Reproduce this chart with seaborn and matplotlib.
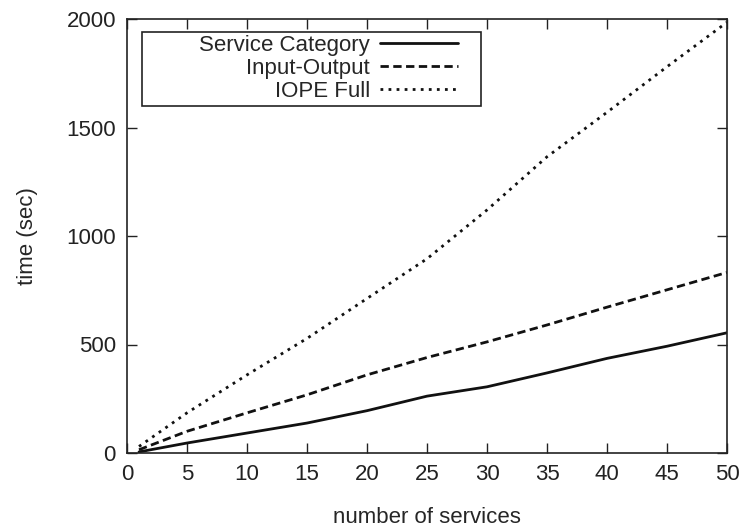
import pandas as pd
import matplotlib
matplotlib.use('Agg')
import matplotlib.pyplot as plt
from matplotlib.patches import Rectangle
import seaborn as sns

# values
services = [1, 5, 10, 15, 20, 25, 30, 35, 40, 45, 50]
service_category = [5, 46, 92, 138, 195, 262, 305, 369, 436, 492, 554]
input_output = [15, 100, 185, 268, 360, 440, 512, 590, 672, 752, 832]
iope_full = [30, 185, 360, 528, 712, 895, 1120, 1365, 1570, 1780, 1985]

labels = ['Service Category', 'Input-Output', 'IOPE Full']
styles = ['-', (0, (3, 1.6)), (0, (1, 1.9))]

sns.set_style('ticks')
plt.rcParams['font.family'] = ['Liberation Sans', 'DejaVu Sans']

fig = plt.figure(figsize=(7.41, 5.30), dpi=100)
ax = fig.add_axes([127 / 741, 77 / 530, 600 / 741, 434 / 530])

for vals, lab, ls in zip([service_category, input_output, iope_full], labels, styles):
    df = pd.DataFrame({'services': services, 'time': vals})
    sns.lineplot(data=df, x='services', y='time', ax=ax, color='#111111',
                 linestyle=ls, linewidth=2.0, label=lab)

ax.set_xlim(0, 50)
ax.set_ylim(0, 2000)
ax.set_xticks(range(0, 51, 5))
ax.set_yticks(range(0, 2001, 500))
ax.set_xlabel('number of services', fontsize=16, labelpad=16)
ax.set_ylabel('time (sec)', fontsize=16, labelpad=20)
ax.tick_params(direction='in', length=7, width=1, labelsize=16, pad=8,
               top=True, right=True, colors='#222222')
for sp in ax.spines.values():
    sp.set_visible(True)
    sp.set_linewidth(1.2)
    sp.set_color('#222222')

leg = ax.legend(loc='upper right', bbox_to_anchor=(0.575, 0.997), frameon=False,
                markerfirst=False, fontsize=16, handlelength=3.5,
                handletextpad=0.45, labelspacing=0.1, borderpad=0.15)
ax.add_patch(Rectangle((0.025, 0.7995), 0.565, 0.1705, transform=ax.transAxes,
                       fill=False, edgecolor='#222222', linewidth=1.2, zorder=5))

fig.savefig('out.png', dpi=100)
